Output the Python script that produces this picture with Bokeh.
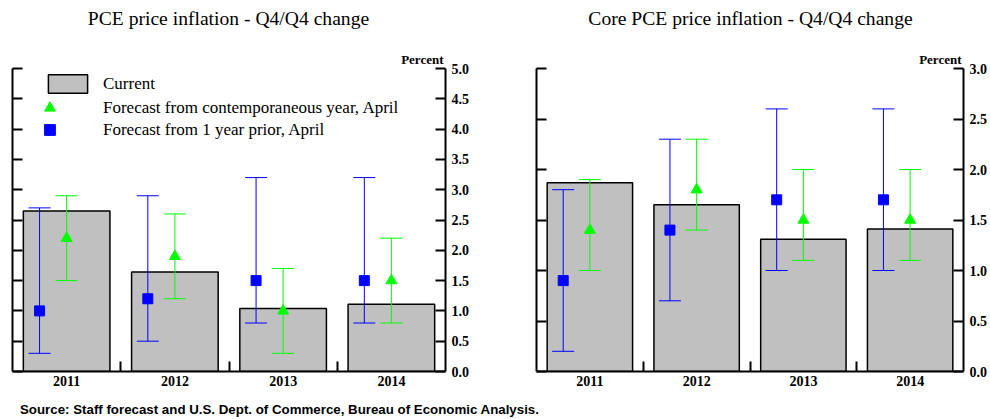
from bokeh.plotting import figure
from bokeh.models import (Range1d, LinearAxis, FixedTicker, SingleIntervalTicker, CustomJSTickFormatter,
                          NumeralTickFormatter, Whisker, TeeHead, ColumnDataSource, Title, Legend,
                          LegendItem, Div)
from bokeh.layouts import row, column
from bokeh.embed import file_html
from bokeh.resources import INLINE

# ---------------- data ----------------
years = ["2011", "2012", "2013", "2014"]

pce_current = [2.65, 1.64, 1.04, 1.11]
pce_contemp = [2.2, 1.9, 1.0, 1.5]
pce_contemp_low = [1.5, 1.2, 0.3, 0.8]
pce_contemp_high = [2.9, 2.6, 1.7, 2.2]
pce_prior = [1.0, 1.2, 1.5, 1.5]
pce_prior_low = [0.3, 0.5, 0.8, 0.8]
pce_prior_high = [2.7, 2.9, 3.2, 3.2]

core_current = [1.87, 1.65, 1.31, 1.41]
core_contemp = [1.4, 1.8, 1.5, 1.5]
core_contemp_low = [1.0, 1.4, 1.1, 1.1]
core_contemp_high = [1.9, 2.3, 2.0, 2.0]
core_prior = [0.9, 1.4, 1.7, 1.7]
core_prior_low = [0.2, 0.7, 1.0, 1.0]
core_prior_high = [1.8, 2.3, 2.6, 2.6]

titles = ["PCE price inflation - Q4/Q4 change", "Core PCE price inflation - Q4/Q4 change"]
legend_labels = ["Current", "Forecast from contemporaneous year, April", "Forecast from 1 year prior, April"]
unit_label = "Percent"
source_note = "Source: Staff forecast and U.S. Dept. of Commerce, Bureau of Economic Analysis."

SERIF = "Liberation Serif"
GREY = "#C0C0C0"
GREEN = "#00FF00"
BLUE = "#0000FF"
TITLE_H = 40
FRAME_H = 303
TOP = 68 - TITLE_H
H = 360


def make_panel(ymax, current, contemp, c_lo, c_hi, prior, p_lo, p_hi,
               border_left, frame_w, border_right, with_legend=False):
    n = len(years)
    centers = [i + 0.5 for i in range(n)]
    prior_x = [c - 0.25 for c in centers]
    src = ColumnDataSource(dict(x=centers, xp=prior_x, current=current, contemp=contemp,
                                c_lo=c_lo, c_hi=c_hi, prior=prior, p_lo=p_lo, p_hi=p_hi))
    p = figure(width=border_left + frame_w + border_right, height=H,
               x_range=Range1d(0, n), y_range=Range1d(0, ymax),
               y_axis_location="right", x_axis_type=None,
               output_backend="svg", toolbar_location=None,
               min_border_left=border_left, min_border_right=border_right,
               min_border_top=TOP, min_border_bottom=H - TOP - FRAME_H)
    p.outline_line_color = None
    p.grid.visible = False
    p.background_fill_color = "white"
    p.border_fill_color = "white"

    p.add_layout(Title(text=unit_label, align="right", text_font=SERIF, text_font_size="13px",
                       text_font_style="bold", text_color="black", standoff=4, offset=2), "above")

    # right y axis with labels
    ry = p.yaxis[0]
    ry.ticker = SingleIntervalTicker(interval=0.5, num_minor_ticks=0)
    ry.formatter = NumeralTickFormatter(format="0.0")
    # left y axis: ticks only
    ly = LinearAxis(ticker=SingleIntervalTicker(interval=0.5, num_minor_ticks=0),
                    formatter=CustomJSTickFormatter(code="return ''"))
    p.add_layout(ly, "left")
    for ax, standoff in ((ry, 6), (ly, 0)):
        ax.axis_line_width = 2
        ax.axis_line_color = "black"
        ax.major_tick_line_width = 2
        ax.major_tick_in = 10
        ax.major_tick_out = 0
        ax.minor_tick_line_color = None
        ax.major_label_standoff = standoff
        ax.major_label_text_font = SERIF
        ax.major_label_text_font_style = "bold"
        ax.major_label_text_font_size = "14px"
        ax.major_label_text_color = "black"

    # x axis: labels at category centres, small ticks at boundaries
    xax = LinearAxis(ticker=FixedTicker(ticks=centers, minor_ticks=list(range(1, n))),
                     major_label_overrides={c: y for c, y in zip(centers, years)})
    xax.axis_line_width = 2
    xax.major_tick_line_color = None
    xax.major_tick_in = 0
    xax.major_tick_out = 0
    xax.minor_tick_in = 10
    xax.minor_tick_out = 0
    xax.minor_tick_line_width = 2
    xax.minor_tick_line_color = "black"
    xax.major_label_standoff = 4
    xax.major_label_text_font = SERIF
    xax.major_label_text_font_style = "bold"
    xax.major_label_text_font_size = "14px"
    xax.major_label_text_color = "black"
    p.add_layout(xax, "below")

    bars = p.vbar(x="x", top="current", width=0.8, source=src, fill_color=GREY,
                  line_color="black", line_width=1.5)

    for base, lo, hi, col in (("xp", "p_lo", "p_hi", BLUE), ("x", "c_lo", "c_hi", GREEN)):
        w = Whisker(source=src, base=base, lower=lo, upper=hi, dimension="height",
                    line_color=col, line_width=1, level="annotation",
                    lower_head=TeeHead(size=22, line_color=col, line_width=1),
                    upper_head=TeeHead(size=22, line_color=col, line_width=1))
        p.add_layout(w)
    sq = p.scatter("xp", "prior", source=src, marker="square", size=10,
                   fill_color=BLUE, line_color=BLUE, level="overlay")
    tri = p.scatter("x", "contemp", source=src, marker="triangle", size=11,
                    fill_color=GREEN, line_color=GREEN, level="overlay")

    if with_legend:
        def mk(item, loc, gw, gh, standoff):
            lg = Legend(items=[item], location=loc, glyph_width=gw, glyph_height=gh,
                        label_height=gh, label_standoff=standoff, padding=0, margin=0,
                        border_line_color=None, background_fill_alpha=0,
                        label_text_font=SERIF, label_text_font_size="17px",
                        label_text_color="black")
            p.add_layout(lg)
        mk(LegendItem(label=legend_labels[0], renderers=[bars]), (31, 276), 49, 23, 11)
        mk(LegendItem(label=legend_labels[1], renderers=[tri]), (24, 250), 27, 27, 40)
        mk(LegendItem(label=legend_labels[2], renderers=[sq]), (24, 228), 27, 27, 40)
    return p


def title_div(text, width, pad_left, content_w):
    return Div(text=('<div style="margin-left:%dpx;width:%dpx;text-align:center;'
                     'font-family:\'Liberation Serif\',serif;font-size:19.6px;line-height:%dpx;'
                     'white-space:nowrap;color:black;">%s</div>') % (pad_left, content_w, TITLE_H - 2, text),
               width=width, height=TITLE_H, styles={"margin": "0"})


p1 = make_panel(5.0, pce_current, pce_contemp, pce_contemp_low, pce_contemp_high,
                pce_prior, pce_prior_low, pce_prior_high, 12, 433, 53, with_legend=True)
p2 = make_panel(3.0, core_current, core_contemp, core_contemp_low, core_contemp_high,
                core_prior, core_prior_low, core_prior_high, 38, 429, 25)

t1 = title_div(titles[0], 498, 12, 433)
t2 = title_div(titles[1], 492, 38, 429)

note = Div(text='<span style="font-family:\'Liberation Sans\',Arial,sans-serif;font-weight:bold;'
                'font-size:13.3px;line-height:19px;white-space:nowrap;color:black;">' + source_note + '</span>',
           width=990, height=19, styles={"padding-left": "20px", "margin": "0"})

layout = column(row(t1, t2), row(p1, p2), note)
open("out.html", "w").write(file_html(layout, INLINE))
